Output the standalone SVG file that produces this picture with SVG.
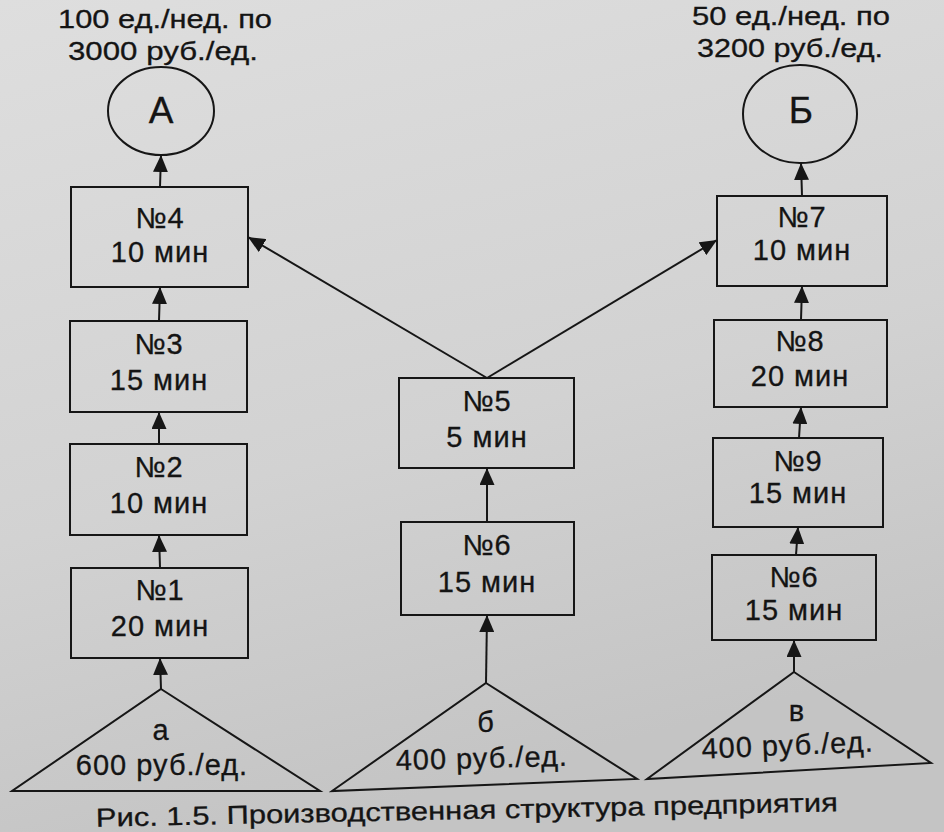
<svg xmlns="http://www.w3.org/2000/svg" width="944" height="832" viewBox="0 0 944 832">
  <defs>
    <linearGradient id="bg" x1="0" y1="0" x2="0.3" y2="1">
      <stop offset="0" stop-color="#dedede"/>
      <stop offset="0.6" stop-color="#d2d2d2"/>
      <stop offset="1" stop-color="#c4c4c4"/>
    </linearGradient>
    <marker id="arr" markerWidth="17" markerHeight="15" refX="17" refY="7.5" orient="auto" markerUnits="userSpaceOnUse">
      <path d="M0,0 L17,7.5 L0,15 z" fill="#161616"/>
    </marker>
  </defs>
  <style>
    .shape { fill: none; stroke: #161616; stroke-width: 2; }
    .conn { fill: none; stroke: #161616; stroke-width: 2; marker-end: url(#arr); }
    text { font-family: "Liberation Sans", Arial, sans-serif; fill: #141414; text-anchor: middle; stroke: #141414; stroke-width: 0.3; }
    .node { font-size: 29px; letter-spacing: 1px; }
    .lbl { font-size: 26px; }
    .big { font-size: 37px; }
    .cap { font-size: 26px; }
  </style>
  <rect x="0" y="0" width="944" height="832" fill="url(#bg)"/>

  <g id="label-A">
    <text class="lbl" x="165" y="28" textLength="214" lengthAdjust="spacingAndGlyphs">100 ед./нед. по</text>
    <text class="lbl" x="163" y="60" textLength="190" lengthAdjust="spacingAndGlyphs">3000 руб./ед.</text>
  </g>
  <g id="label-B">
    <text class="lbl" x="791" y="25" textLength="198" lengthAdjust="spacingAndGlyphs">50 ед./нед. по</text>
    <text class="lbl" x="790" y="57" textLength="186" lengthAdjust="spacingAndGlyphs">3200 руб./ед.</text>
  </g>

  <g id="product-A">
    <ellipse class="shape" cx="161" cy="111" rx="53" ry="44"/>
    <text class="big" x="161" y="123">А</text>
  </g>
  <g id="product-B">
    <ellipse class="shape" cx="800" cy="114" rx="57" ry="49"/>
    <text class="big" x="801" y="123">Б</text>
  </g>

  <g id="op4">
    <rect class="shape" x="71" y="187" width="177" height="100"/>
    <text class="node" x="160" y="228">№4</text>
    <text class="node" x="160" y="262">10 мин</text>
  </g>
  <g id="op3">
    <rect class="shape" x="70" y="321" width="177" height="91"/>
    <text class="node" x="159" y="354">№3</text>
    <text class="node" x="159" y="390">15 мин</text>
  </g>
  <g id="op2">
    <rect class="shape" x="70" y="444" width="177" height="91"/>
    <text class="node" x="159" y="477">№2</text>
    <text class="node" x="159" y="513">10 мин</text>
  </g>
  <g id="op1">
    <rect class="shape" x="71" y="568" width="177" height="90"/>
    <text class="node" x="160" y="600">№1</text>
    <text class="node" x="160" y="636">20 мин</text>
  </g>

  <g id="op5">
    <rect class="shape" x="399" y="378" width="175" height="90"/>
    <text class="node" x="487" y="411">№5</text>
    <text class="node" x="487" y="447">5 мин</text>
  </g>
  <g id="op6-mid">
    <rect class="shape" x="401" y="522" width="173" height="93"/>
    <text class="node" x="487" y="555">№6</text>
    <text class="node" x="487" y="592">15 мин</text>
  </g>

  <g id="op7">
    <rect class="shape" x="717" y="196" width="170" height="90"/>
    <text class="node" x="802" y="227">№7</text>
    <text class="node" x="802" y="260">10 мин</text>
  </g>
  <g id="op8">
    <rect class="shape" x="714" y="320" width="173" height="87"/>
    <text class="node" x="800" y="351">№8</text>
    <text class="node" x="800" y="386">20 мин</text>
  </g>
  <g id="op9">
    <rect class="shape" x="713" y="438" width="170" height="89"/>
    <text class="node" x="798" y="471">№9</text>
    <text class="node" x="798" y="503">15 мин</text>
  </g>
  <g id="op6-right">
    <rect class="shape" x="712" y="555" width="164" height="85"/>
    <text class="node" x="794" y="587">№6</text>
    <text class="node" x="794" y="620">15 мин</text>
  </g>

  <g id="material-a">
    <path class="shape" d="M161,689 L320,791 L12,791 Z"/>
    <text class="node" x="161" y="740">а</text>
    <text class="node" x="162" y="775">600 руб./ед.</text>
  </g>
  <g id="material-b">
    <path class="shape" d="M486,683 L637,779 L332,791 Z"/>
    <text class="node" x="486" y="732">б</text>
    <text class="node" x="482" y="768" transform="rotate(-1.5 482 768)">400 руб./ед.</text>
  </g>
  <g id="material-v">
    <path class="shape" d="M794,672 L931,763 L647,779 Z"/>
    <text class="node" x="797" y="721">в</text>
    <text class="node" x="788" y="755" transform="rotate(-2.5 788 755)">400 руб./ед.</text>
  </g>

  <g id="connectors">
    <line class="conn" x1="161" y1="689" x2="160" y2="658"/>
    <line class="conn" x1="160" y1="568" x2="159" y2="535"/>
    <line class="conn" x1="159" y1="444" x2="159" y2="412"/>
    <line class="conn" x1="159" y1="321" x2="160" y2="287"/>
    <line class="conn" x1="160" y1="187" x2="161" y2="155"/>
    <line class="conn" x1="486" y1="683" x2="487" y2="615"/>
    <line class="conn" x1="487" y1="522" x2="487" y2="468"/>
    <line class="conn" x1="487" y1="378" x2="248" y2="237"/>
    <line class="conn" x1="487" y1="378" x2="717" y2="240"/>
    <line class="conn" x1="794" y1="672" x2="794" y2="640"/>
    <line class="conn" x1="796" y1="555" x2="798" y2="527"/>
    <line class="conn" x1="799" y1="438" x2="801" y2="407"/>
    <line class="conn" x1="801" y1="320" x2="802" y2="286"/>
    <line class="conn" x1="802" y1="196" x2="801" y2="163"/>
  </g>

  <text class="cap" x="467" y="819" textLength="742" lengthAdjust="spacingAndGlyphs" transform="rotate(-1.2 467 819)">Рис. 1.5. Производственная структура предприятия</text>
</svg>
